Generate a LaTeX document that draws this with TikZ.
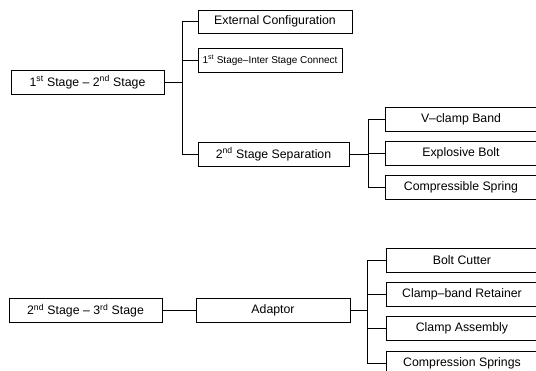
\documentclass[tikz,border=0pt]{standalone}
\usepackage{fontspec}
\setmainfont{Liberation Sans}
\begin{document}
\begin{tikzpicture}[x=1pt,y=-1pt,
  box/.style={draw,line width=0.9pt,minimum height=24pt,inner sep=0pt,font=\fontsize{12.3}{14}\selectfont},
  conn/.style={line width=0.9pt}]
\useasboundingbox (0,0) rectangle (536,370);
% upper tree
\node[box,minimum width=153pt] (A) at (87.5,82) {1\textsuperscript{st} Stage -- 2\textsuperscript{nd} Stage};
\node[box,minimum width=154pt,minimum height=23pt] (EC) at (275,21.5) {External Configuration};
\node[box,minimum width=144pt,font=\fontsize{10}{12}\selectfont] (IS) at (270,60) {1\textsuperscript{st} Stage--Inter Stage Connect};
\node[box,minimum width=151pt] (SS) at (273.5,154) {2\textsuperscript{nd} Stage Separation};
\node[box,minimum width=152pt] (VB) at (461,119.5) {V--clamp Band};
\node[box,minimum width=152pt] (EB) at (461,153) {Explosive Bolt};
\node[box,minimum width=152pt] (CS) at (461,187) {Compressible Spring};
\coordinate (j1) at (182,82);
\coordinate (j2) at (368,154);
\draw[conn] (A.east) -- (j1);
\draw[conn] (j1) |- (EC.west);
\draw[conn] (j1) |- (IS.west);
\draw[conn] (j1) |- (SS.west);
\draw[conn] (SS.east) -- (j2);
\draw[conn] (j2) |- (VB.west);
\draw[conn] (j2) |- (EB.west);
\draw[conn] (j2) |- (CS.west);
% lower tree
\node[box,minimum width=153pt] (B) at (85.5,310.5) {2\textsuperscript{nd} Stage -- 3\textsuperscript{rd} Stage};
\node[box,minimum width=154pt] (AD) at (273,310.5) {Adaptor};
\node[box,minimum width=152pt] (BC) at (462,260) {Bolt Cutter};
\node[box,minimum width=152pt] (CR) at (462,294) {Clamp--band Retainer};
\node[box,minimum width=152pt] (CA) at (462,328) {Clamp Assembly};
\node[box,minimum width=152pt] (CP) at (462,363) {Compression Springs};
\coordinate (j3) at (367,310.5);
\draw[conn] (B.east) -- (AD.west);
\draw[conn] (AD.east) -- (j3);
\draw[conn] (j3) |- (BC.west);
\draw[conn] (j3) |- (CR.west);
\draw[conn] (j3) |- (CA.west);
\draw[conn] (j3) |- (CP.west);
\end{tikzpicture}
\end{document}
